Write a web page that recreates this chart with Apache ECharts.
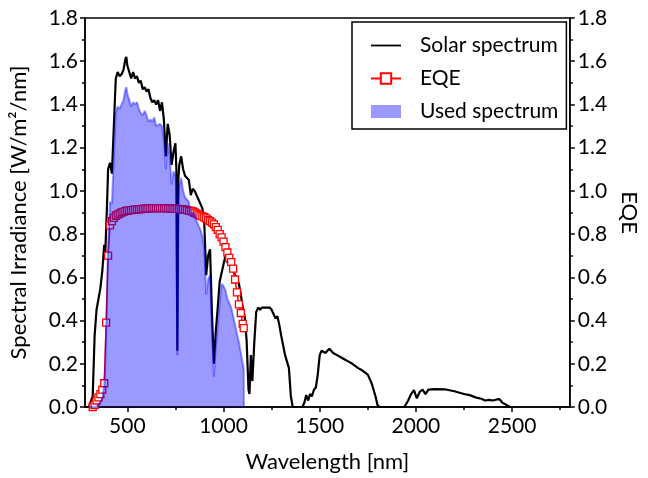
<!DOCTYPE html>
<html>
<head>
<meta charset="utf-8">
<script src="https://cdn.jsdelivr.net/npm/echarts@6/dist/echarts.min.js"></script>
<style>
  html, body { margin: 0; padding: 0; background: #fff; }
  #chart { width: 648px; height: 478px; }
</style>
</head>
<body>
<div id="chart"></div>
<script>
// wavelength [nm] / spectral irradiance [W/m2/nm]
const solarWl = [280, 300, 310, 320, 330, 340, 350, 360, 370, 380, 385, 395, 400, 410, 420, 430, 440, 450, 460, 470,
  480, 490, 495, 500, 510, 520, 530, 540, 550, 560, 570, 580, 590, 600, 610, 620, 630, 640, 650, 660,
  670, 680, 690, 700, 710, 720, 730, 740, 750, 755, 760, 765, 770, 780, 790, 800, 810, 820, 830, 840,
  850, 860, 870, 880, 890, 900, 910, 920, 930, 940, 950, 960, 970, 980, 990, 1000, 1010, 1020, 1030, 1040,
  1050, 1060, 1070, 1080, 1090, 1100, 1110, 1120, 1130, 1135, 1142, 1150, 1160, 1170, 1180, 1190, 1200, 1220, 1240, 1250,
  1260, 1270, 1280, 1290, 1300, 1320, 1340, 1350, 1360, 1410, 1420, 1430, 1440, 1450, 1460, 1470, 1480, 1490, 1500, 1510,
  1520, 1530, 1540, 1550, 1560, 1570, 1580, 1590, 1600, 1610, 1620, 1630, 1650, 1670, 1700, 1720, 1750, 1770, 1790, 1800,
  1810, 1940, 1960, 1975, 1990, 2005, 2020, 2035, 2050, 2065, 2100, 2150, 2200, 2250, 2280, 2300, 2320, 2340, 2360, 2380,
  2400, 2420, 2435, 2450, 2470, 2490, 2500];
const solarVal = [0, 0, 0.005, 0.05, 0.33, 0.45, 0.50, 0.55, 0.63, 0.75, 0.70, 0.95, 1.10, 1.13, 1.08, 1.30, 1.52, 1.55, 1.53, 1.54,
  1.56, 1.61, 1.62, 1.58, 1.55, 1.52, 1.55, 1.52, 1.53, 1.50, 1.51, 1.47, 1.48, 1.46, 1.47, 1.43, 1.41, 1.42, 1.40, 1.42,
  1.37, 1.41, 1.33, 1.16, 1.31, 1.26, 1.12, 1.18, 1.22, 1.10, 0.26, 1.05, 1.12, 1.16, 1.10, 1.07, 1.06, 1.05, 0.98, 1.01,
  1.00, 0.98, 0.96, 0.94, 0.92, 0.85, 0.61, 0.70, 0.73, 0.43, 0.20, 0.35, 0.46, 0.58, 0.62, 0.66, 0.70, 0.67, 0.66, 0.64,
  0.63, 0.61, 0.59, 0.57, 0.52, 0.46, 0.42, 0.31, 0.08, 0.06, 0.24, 0.12, 0.30, 0.44, 0.46, 0.45, 0.46, 0.46, 0.46, 0.45,
  0.43, 0.41, 0.42, 0.38, 0.33, 0.24, 0.18, 0.05, 0, 0, 0.02, 0.055, 0.03, 0.06, 0.05, 0.08, 0.09, 0.15, 0.24, 0.26,
  0.26, 0.25, 0.26, 0.27, 0.27, 0.25, 0.245, 0.24, 0.235, 0.23, 0.225, 0.22, 0.21, 0.20, 0.18, 0.17, 0.15, 0.11, 0.05, 0.01,
  0, 0, 0.03, 0.06, 0.078, 0.04, 0.07, 0.08, 0.06, 0.08, 0.083, 0.082, 0.073, 0.06, 0.055, 0.048, 0.042, 0.038, 0.03, 0.033,
  0.03, 0.035, 0.036, 0.02, 0.01, 0, 0];

// part of the spectrum that is used (blue area)
const usedWl = [300, 340, 350, 360, 370, 380, 385, 390, 395, 400, 410, 420, 430, 440, 450, 460, 470, 480, 490, 495,
  500, 510, 520, 530, 540, 550, 560, 570, 580, 590, 600, 610, 620, 630, 640, 650, 660, 670, 680, 690,
  700, 710, 720, 730, 740, 750, 755, 760, 765, 770, 780, 790, 800, 810, 820, 830, 840, 850, 860, 870,
  880, 890, 900, 910, 920, 930, 940, 950, 960, 970, 980, 990, 1000, 1010, 1020, 1040, 1060, 1080, 1100, 1105, 1106];
const usedVal = [0, 0, 0.005, 0.02, 0.04, 0.10, 0.18, 0.35, 0.55, 0.75, 0.95, 0.94, 1.15, 1.36, 1.39, 1.38, 1.40, 1.42, 1.47, 1.48,
  1.45, 1.42, 1.39, 1.41, 1.40, 1.41, 1.38, 1.36, 1.35, 1.37, 1.35, 1.32, 1.33, 1.32, 1.34, 1.30, 1.30, 1.31, 1.30, 1.24,
  1.10, 1.22, 1.16, 1.03, 1.09, 1.07, 1.00, 0.24, 0.96, 1.02, 1.06, 1.00, 0.97, 0.96, 0.95, 0.88, 0.90, 0.89, 0.86, 0.84,
  0.82, 0.79, 0.73, 0.52, 0.59, 0.61, 0.35, 0.14, 0.28, 0.37, 0.48, 0.57, 0.56, 0.54, 0.50, 0.46, 0.38, 0.30, 0.20, 0.18, 0];

// EQE
const eqeWl = [320, 330, 340, 350, 360, 370, 380, 390, 400, 410, 420, 430, 440, 450, 460, 470, 480, 490, 500, 510,
  520, 530, 540, 550, 560, 570, 580, 590, 600, 610, 620, 630, 640, 650, 660, 670, 680, 690, 700, 710,
  720, 730, 740, 750, 760, 770, 780, 790, 800, 810, 820, 830, 840, 850, 860, 870, 880, 890, 900, 910,
  920, 930, 940, 950, 960, 970, 980, 990, 1000, 1010, 1020, 1030, 1040, 1050, 1060, 1070, 1080, 1090, 1100, 1105];
const eqeVal = [0, 0.01, 0.03, 0.045, 0.06, 0.08, 0.11, 0.39, 0.70, 0.84, 0.86, 0.875, 0.885, 0.89, 0.895, 0.90, 0.903, 0.906, 0.908, 0.910,
  0.911, 0.912, 0.913, 0.914, 0.915, 0.916, 0.917, 0.918, 0.918, 0.919, 0.919, 0.920, 0.920, 0.920, 0.920, 0.920, 0.920, 0.920, 0.920, 0.919,
  0.919, 0.918, 0.918, 0.918, 0.917, 0.916, 0.915, 0.914, 0.913, 0.911, 0.909, 0.907, 0.905, 0.90, 0.895, 0.89, 0.886, 0.882, 0.878, 0.873,
  0.866, 0.86, 0.853, 0.845, 0.832, 0.82, 0.80, 0.785, 0.765, 0.74, 0.715, 0.69, 0.67, 0.64, 0.59, 0.53, 0.475, 0.435, 0.385, 0.365];

const xTicks = [500, 1000, 1500, 2000, 2500];
const xMinorTicks = [750, 1250, 1750, 2250, 2750];

const zip = (a, b) => a.map((v, i) => [v, b[i]]);

const font = 'Lato';
const tickLabel = { color: '#000', fontSize: 21, fontFamily: font };
const black = { color: '#000', width: 1.5 };

const chart = echarts.init(document.getElementById('chart'));

chart.setOption({
  animation: false,
  grid: {
    left: 85, right: 69, top: 18, bottom: 68,
    show: true, borderColor: '#000', borderWidth: 1.5
  },
  legend: {
    orient: 'vertical',
    left: 352, top: 22,
    padding: [13, 8, 7, 18],
    itemGap: 12,
    itemWidth: 30, itemHeight: 13,
    borderColor: '#000', borderWidth: 1.5,
    textStyle: { color: '#000', fontSize: 21, fontFamily: font, padding: [0, 0, 0, 14] },
    data: [
      { name: 'Solar spectrum', icon: 'path://M0,5.6 L30,5.6 L30,7.4 L0,7.4 Z', itemStyle: { color: '#000' } },
      { name: 'EQE' },
      { name: 'Used spectrum', icon: 'rect', itemStyle: { color: 'rgba(0,0,255,0.4)', borderWidth: 0 } }
    ]
  },
  xAxis: [{
    type: 'value',
    min: 280, max: 2800,
    name: 'Wavelength [nm]',
    nameLocation: 'middle',
    nameGap: 44,
    nameTextStyle: { color: '#000', fontSize: 22, fontFamily: font },
    splitLine: { show: false },
    axisLine: { lineStyle: black },
    axisTick: { customValues: xTicks, length: 5, lineStyle: black },
    axisLabel: Object.assign({ customValues: xTicks, margin: 9, formatter: v => String(v) }, tickLabel)
  }, {
    type: 'value',
    min: 280, max: 2800,
    position: 'bottom',
    splitLine: { show: false },
    axisLine: { show: false },
    axisLabel: { show: false },
    axisTick: { customValues: xMinorTicks, length: 3, lineStyle: black }
  }],
  yAxis: [{
    type: 'value',
    min: 0, max: 1.8, interval: 0.2,
    name: 'Spectral Irradiance [W/m²/nm]',
    nameLocation: 'middle',
    nameGap: 55,
    nameTextStyle: { color: '#000', fontSize: 22, fontFamily: font },
    splitLine: { show: false },
    axisLine: { show: true, lineStyle: black },
    axisTick: { length: 5, lineStyle: black },
    minorTick: { show: true, splitNumber: 2, length: 3, lineStyle: black },
    axisLabel: Object.assign({ margin: 7, formatter: v => v.toFixed(1) }, tickLabel)
  }, {
    type: 'value',
    position: 'right',
    min: 0, max: 1.8, interval: 0.2,
    name: 'EQE',
    nameLocation: 'middle',
    nameRotate: -90,
    nameGap: 47,
    nameTextStyle: { color: '#000', fontSize: 22, fontFamily: font },
    splitLine: { show: false },
    axisLine: { show: true, lineStyle: black },
    axisTick: { length: 5, lineStyle: black },
    minorTick: { show: true, splitNumber: 2, length: 3, lineStyle: black },
    axisLabel: Object.assign({ margin: 8, formatter: v => v.toFixed(1) }, tickLabel)
  }],
  series: [{
    name: 'Solar spectrum',
    type: 'line',
    z: 2,
    data: zip(solarWl, solarVal),
    symbol: 'none',
    lineStyle: { color: '#000', width: 2.2 },
    itemStyle: { color: '#000' }
  }, {
    name: 'EQE',
    type: 'line',
    z: 2,
    yAxisIndex: 1,
    data: zip(eqeWl, eqeVal),
    symbol: 'rect',
    symbolSize: 7,
    showAllSymbol: true,
    lineStyle: { color: '#ff0000', width: 1.5 },
    itemStyle: { color: '#fff', borderColor: '#ff0000', borderWidth: 1.3 }
  }, {
    name: 'Used spectrum',
    type: 'line',
    z: 4,
    data: zip(usedWl, usedVal),
    symbol: 'none',
    lineStyle: { color: 'rgba(0,0,255,0.4)', width: 2 },
    itemStyle: { color: 'rgba(0,0,255,0.4)' },
    areaStyle: { color: 'rgba(0,0,255,0.4)', opacity: 1 }
  }]
});
</script>
</body>
</html>
